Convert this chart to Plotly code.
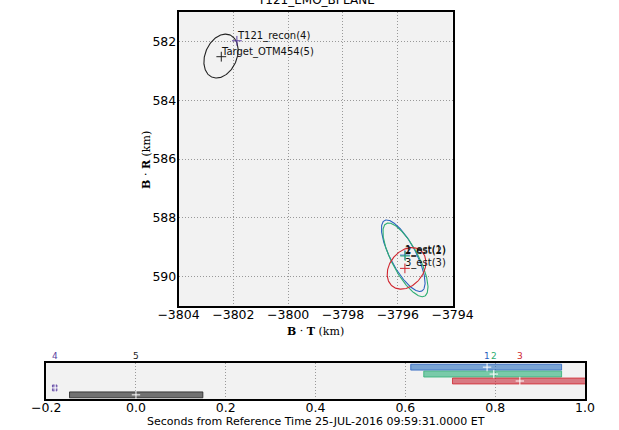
import numpy as np
import plotly.graph_objects as go

# ---------------- data ----------------
labels = ["1_est(1)", "2_est(2)", "3_est(3)", "T121_recon(4)", "Target_OTM454(5)"]
ids = ["1", "2", "3", "4", "5"]
colors = ["#2a62c0", "#2fae72", "#d0262f", "#5a3fa0", "#222222"]
bar_fill = ["rgba(40,110,190,0.6)", "rgba(40,175,120,0.6)", "rgba(200,40,55,0.6)",
            "rgba(90,63,160,0.6)", "rgba(90,90,90,0.85)"]
bdot_t = [-3795.74, -3795.73, -3795.74, -3801.87, -3802.44]
bdot_r = [589.27, 589.30, 589.72, 581.98, 582.52]
ell_t = [-3795.80, -3795.72, -3795.68, -3801.87, -3802.45]
ell_r = [589.29, 589.43, 589.72, 581.98, 582.50]
semi_major = [1.38, 1.42, 0.80, 0.0, 0.79]
semi_minor = [0.46, 0.48, 0.60, 0.0, 0.57]
angle_deg = [60, 60, -45, 0, -62]

epoch_s = [0.782, 0.797, 0.855, -0.18, 0.0]
win_start = [0.612, 0.641, 0.705, -0.186, -0.148]
win_end = [0.948, 0.948, 1.005, -0.176, 0.149]
row = [1, 2, 3, 4, 5]

xticks_main = [-3804, -3802, -3800, -3798, -3796, -3794]
yticks_main = [582, 584, 586, 588, 590]
xticks_tl = [-0.2, 0.0, 0.2, 0.4, 0.6, 0.8, 1.0]

W, H = 619, 430
def px(x):
    return x / W
def py(y):
    return 1 - y / H

fig = go.Figure()

# ellipses
th = np.linspace(0, 2 * np.pi, 240)
for i in range(len(labels)):
    a, b = semi_major[i], semi_minor[i]
    if a <= 0:
        continue
    ang = np.deg2rad(angle_deg[i])
    ex = a * np.cos(th) * np.cos(ang) - b * np.sin(th) * np.sin(ang) + ell_t[i]
    ey = a * np.cos(th) * np.sin(ang) + b * np.sin(th) * np.cos(ang) + ell_r[i]
    fig.add_trace(go.Scatter(x=ex, y=ey, mode="lines", line=dict(color=colors[i], width=1.1),
                             xaxis="x", yaxis="y", hoverinfo="skip", showlegend=False))

fig.add_trace(go.Scatter(x=bdot_t, y=bdot_r, mode="markers",
                         marker=dict(symbol="cross-thin", size=7, line=dict(width=1, color=colors)),
                         xaxis="x", yaxis="y", showlegend=False))
for i in range(len(labels)):
    fig.add_annotation(x=bdot_t[i], y=bdot_r[i], xref="x", yref="y", text=labels[i],
                       showarrow=False, xanchor="left", yanchor="bottom", yshift=-3, xshift=-2,
                       font=dict(size=10, color="#111", family="DejaVu Sans"))

# timeline bars
for i in range(len(labels)):
    fig.add_trace(go.Bar(x=[win_end[i] - win_start[i]], base=[win_start[i]], y=[row[i]],
                         orientation="h", width=0.85, marker=dict(color=bar_fill[i],
                         line=dict(color=colors[i], width=0.8)),
                         xaxis="x2", yaxis="y2", showlegend=False, hoverinfo="skip"))
fig.add_trace(go.Scatter(x=epoch_s, y=row, mode="markers",
                         marker=dict(symbol="cross-thin", size=6, line=dict(width=1, color="white")),
                         xaxis="x2", yaxis="y2", showlegend=False))
for i in range(len(labels)):
    fig.add_annotation(x=epoch_s[i], y=1, xref="x2", yref="y2 domain", yanchor="bottom",
                       text=ids[i], showarrow=False, xanchor="center",
                       font=dict(size=9, color=colors[i], family="DejaVu Sans"))

axis_common = dict(showline=True, linecolor="black", linewidth=1.5, mirror=True,
                   showgrid=True, gridcolor="#999999", griddash="1px,2px", gridwidth=1,
                   zeroline=False, ticks="", tickfont=dict(size=12.5, family="DejaVu Sans", color="black"))

fig.update_layout(
    width=W, height=H, margin=dict(l=0, r=0, t=0, b=0),
    paper_bgcolor="white", plot_bgcolor="#f2f2f2",
    barmode="overlay", font=dict(family="DejaVu Sans"),
    xaxis=dict(domain=[px(169), px(463)], range=[-3804, -3794], tickvals=xticks_main,
               ticktext=["\u2212" + str(abs(v)) for v in xticks_main],
               anchor="y", ticklabelstandoff=-4, **axis_common),
    yaxis=dict(domain=[py(306), py(12)], range=[591, 581], tickvals=yticks_main,
               anchor="x", ticklabelstandoff=-2, **axis_common),
    xaxis2=dict(domain=[px(27), px(605)], range=[-0.2, 1.0], tickvals=xticks_tl,
                ticktext=["\u22120.2", "0.0", "0.2", "0.4", "0.6", "0.8", "1.0"],
                anchor="y2", ticklabelstandoff=-4, **axis_common),
    yaxis2=dict(domain=[py(399), py(363)], range=[5.6, 0.4], showticklabels=False,
                anchor="x2", showline=True, linecolor="black", linewidth=1.5, mirror=True,
                showgrid=False, zeroline=False),
)
fig.add_annotation(x=px(316), y=py(9), xref="paper", yref="paper", yanchor="bottom", xanchor="center",
                   text="T121_EMO_BPLANE", showarrow=False,
                   font=dict(size=12, color="black"))
fig.add_annotation(x=px(316), y=py(331), xref="paper", yref="paper", xanchor="center", yanchor="middle",
                   text="<b>B</b> \u00b7 <b>T</b> (km)", showarrow=False,
                   font=dict(size=11, color="black", family="DejaVu Serif"))
fig.add_annotation(x=px(134), y=py(160), xref="paper", yref="paper", textangle=-90,
                   xanchor="center", yanchor="middle",
                   text="<b>B</b> \u00b7 <b>R</b> (km)", showarrow=False,
                   font=dict(size=11, color="black", family="DejaVu Serif"))
fig.add_annotation(x=px(316), y=py(421), xref="paper", yref="paper", xanchor="center", yanchor="middle",
                   text="Seconds from Reference Time 25-JUL-2016 09:59:31.0000 ET", showarrow=False,
                   font=dict(size=11, color="black"))

fig.write_html("out.html")
